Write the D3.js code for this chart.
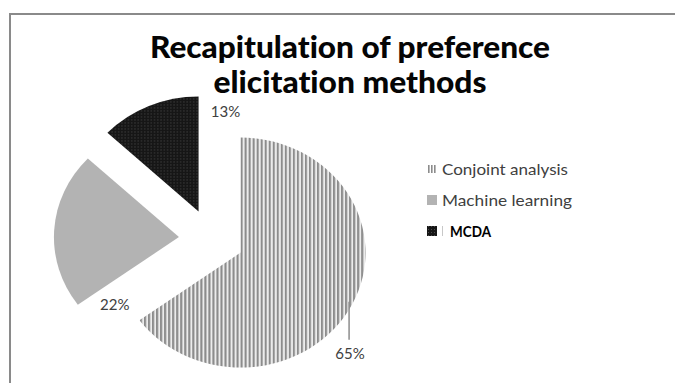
<!DOCTYPE html>
<html>
<head>
<meta charset="utf-8">
<script src="https://cdn.jsdelivr.net/npm/d3@7"></script>
<style>
  html, body { margin: 0; padding: 0; background: #fff; }
  svg { display: block; }
  text { font-variant-ligatures: none; }
</style>
</head>
<body>
<svg id="chart" width="675" height="383"></svg>
<script>
// Share of preference elicitation methods
const categories = ["Conjoint analysis", "Machine learning", "MCDA"];
const shares = [65, 22, 13];
const labelTexts = ["65%", "22%", "13%"];
const titleLines = ["Recapitulation of preference", "elicitation methods"];

const W = 675, H = 383;
const svg = d3.select("#chart");

// defs: fills for the three methods
const defs = svg.append("defs");
const stripes = defs.append("pattern")
  .attr("id", "fill-conjoint").attr("patternUnits", "userSpaceOnUse")
  .attr("width", 3.7).attr("height", 10);
stripes.append("rect").attr("width", 3.7).attr("height", 10).attr("fill", "#ececec");
stripes.append("rect").attr("width", 1.9).attr("height", 10).attr("fill", "#8c8c8c");

const dots = defs.append("pattern")
  .attr("id", "fill-mcda").attr("patternUnits", "userSpaceOnUse")
  .attr("width", 3).attr("height", 3);
dots.append("rect").attr("width", 3).attr("height", 3).attr("fill", "#161616");
dots.append("rect").attr("x", 1).attr("y", 1).attr("width", 1).attr("height", 1).attr("fill", "#4a4a4a");

const fills = d3.scaleOrdinal()
  .domain(categories)
  .range(["url(#fill-conjoint)", "#b3b3b3", "url(#fill-mcda)"]);

// chart frame (top and left edges visible)
svg.append("line").attr("x1", 9).attr("x2", W).attr("y1", 14).attr("y2", 14)
  .attr("stroke", "#8a8a8a").attr("stroke-width", 2);
svg.append("line").attr("x1", 10).attr("x2", 10).attr("y1", 13).attr("y2", H)
  .attr("stroke", "#8a8a8a").attr("stroke-width", 2);

// title
const title = svg.append("g")
  .attr("font-family", "Lato, 'Open Sans', sans-serif")
  .attr("font-weight", "900").attr("font-size", 31).attr("fill", "#050505")
  .attr("text-anchor", "middle");
title.selectAll("text").data(titleLines).join("text")
  .attr("x", 350)
  .attr("y", (d, i) => 58 + i * 35)
  .attr("textLength", (d, i) => i === 0 ? 400 : 273)
  .attr("lengthAdjust", "spacingAndGlyphs")
  .text(d => d);

// pie
const cx = 211.5, cy = 239, rOuter = 115, explode = 30, stretchX = 1.087;
const pie = d3.pie().sort(null).value(d => d.value);
const arcs = pie(categories.map((c, i) => ({ name: c, value: shares[i], label: labelTexts[i] })));
const arc = d3.arc().innerRadius(0).outerRadius(rOuter);
const mid = a => (a.startAngle + a.endAngle) / 2;

const pieG = svg.append("g")
  .attr("transform", `translate(${cx},${cy}) scale(${stretchX},1)`);
pieG.selectAll("path").data(arcs).join("path")
  .attr("transform", d => `translate(${explode * Math.sin(mid(d))},${-explode * Math.cos(mid(d))})`)
  .attr("d", arc)
  .attr("fill", d => fills(d.data.name));

// data labels, placed relative to each exploded slice
function toPage(d, angle, radius) {
  const ox = explode * Math.sin(mid(d)), oy = -explode * Math.cos(mid(d));
  return [cx + stretchX * (ox + radius * Math.sin(angle)), cy + oy - radius * Math.cos(angle)];
}
const lblG = svg.append("g")
  .attr("font-family", "Lato, 'Open Sans', sans-serif")
  .attr("font-size", 15).attr("fill", "#404040").attr("text-anchor", "middle");

arcs.forEach(d => {
  let x, y;
  if (d.data.name === "Conjoint analysis") {
    // leader line falling from the slice's rim to the label below
    const [lx, ly] = toPage(d, 2.09, 115);
    lblG.append("line").attr("x1", lx).attr("x2", lx).attr("y1", ly - 8).attr("y2", ly + 30)
      .attr("stroke", "#8c8c8c").attr("stroke-width", 1.5);
    x = lx + 1; y = ly + 49;
  } else if (d.data.name === "Machine learning") {
    const [bx, by] = toPage(d, d.startAngle, rOuter);
    x = bx + 37; y = by + 5;
  } else {
    const [tx, ty] = toPage(d, d.endAngle, rOuter);
    x = tx + 27; y = ty + 21;
  }
  lblG.append("text").attr("x", x).attr("y", y).text(d.data.label);
});

// legend
const legend = svg.append("g").attr("transform", "translate(427,0)")
  .attr("font-family", "Lato, 'Open Sans', sans-serif").attr("font-size", 16);
const rowY = d3.scalePoint().domain(categories).range([169, 231]);
const rows = legend.selectAll("g").data(categories).join("g")
  .attr("transform", d => `translate(0,${rowY(d)})`);

rows.each(function (d, i) {
  const g = d3.select(this);
  if (i === 0) {
    [1, 4, 7].forEach(dx => g.append("rect").attr("x", dx).attr("y", -4).attr("width", 1.6).attr("height", 8).attr("fill", "#8c8c8c"));
  } else {
    g.append("rect").attr("x", 0).attr("y", -5).attr("width", 10).attr("height", 10)
      .attr("fill", fills(d));
  }
  if (i === 2) {
    g.append("rect").attr("x", 15).attr("y", -5).attr("width", 1).attr("height", 10).attr("fill", "#c8c8c8");
  }
  g.append("text")
    .attr("x", i === 2 ? 23 : 15)
    .attr("dy", "0.35em")
    .attr("fill", i === 2 ? "#000" : "#404040")
    .attr("font-weight", i === 2 ? "bold" : "normal")
    .attr("textLength", [126, 130, 41][i])
    .attr("lengthAdjust", "spacingAndGlyphs")
    .text(d);
});
</script>
</body>
</html>
